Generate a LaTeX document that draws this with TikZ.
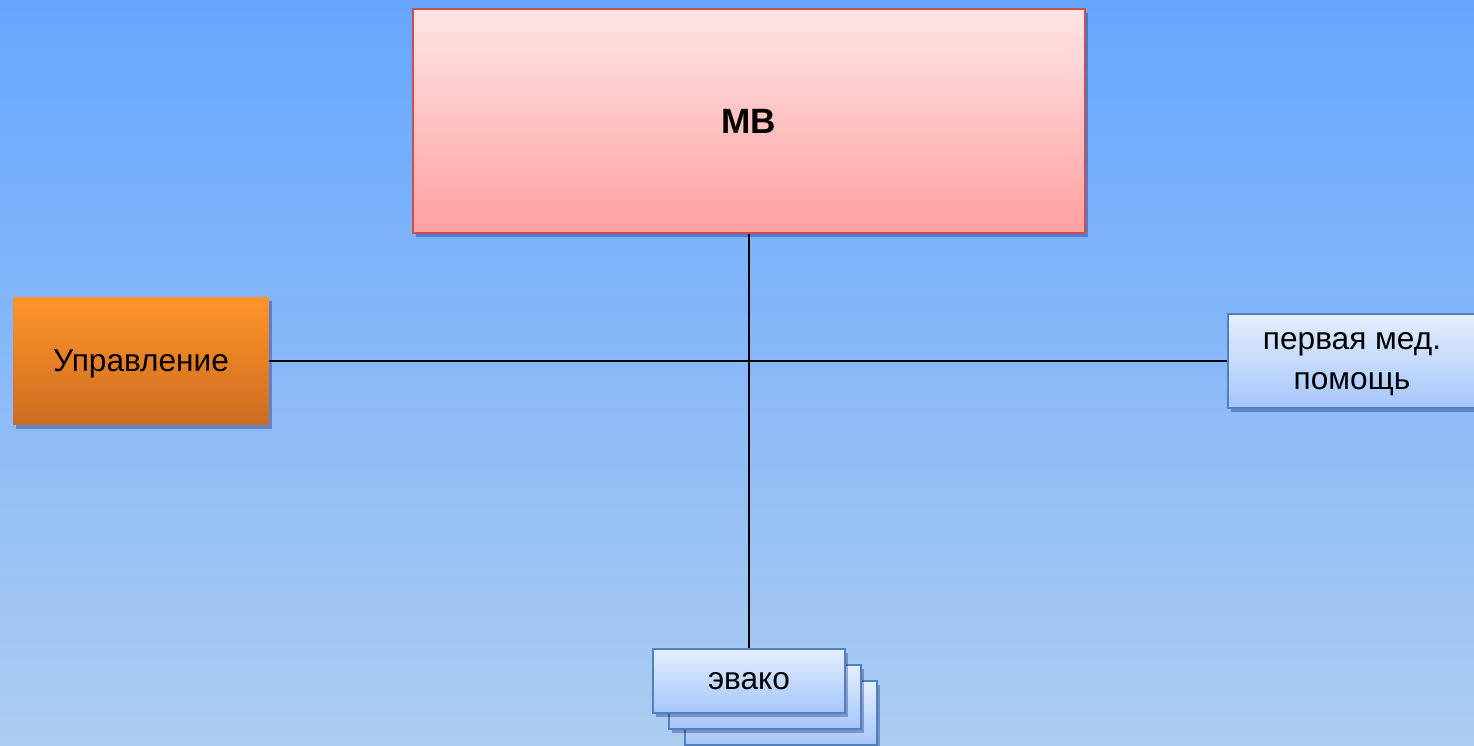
\documentclass[tikz,border=0pt]{standalone}
\usepackage{fontspec}
\setmainfont{Liberation Sans}
\usetikzlibrary{positioning,shadows}

\definecolor{skytop}{RGB}{102,166,255}
\definecolor{skybot}{RGB}{172,205,240}
\definecolor{mbtop}{RGB}{255,229,229}
\definecolor{mbbot}{RGB}{255,160,160}
\definecolor{mbline}{RGB}{200,80,77}
\definecolor{ortop}{RGB}{255,148,40}
\definecolor{orbot}{RGB}{204,108,34}
\definecolor{bltop}{RGB}{228,238,255}
\definecolor{blbot}{RGB}{166,198,250}
\definecolor{blline}{RGB}{79,129,189}

\tikzset{
    boxshadow/.style={drop shadow={shadow xshift=1.5pt, shadow yshift=-2pt, opacity=0.3, fill=blue!40!black}},
    mbbox/.style={draw=mbline, line width=1pt, top color=mbtop, bottom color=mbbot,
        minimum width=13.44cm, minimum height=4.48cm, boxshadow, font=\fontsize{20}{24}\selectfont\bfseries},
    ctrlbox/.style={top color=ortop, bottom color=orbot, minimum width=5.12cm, minimum height=2.56cm,
        boxshadow, text depth=0pt, font=\fontsize{18}{22}\selectfont},
    unitbox/.style={draw=blline, line width=1pt, top color=bltop, bottom color=blbot,
        boxshadow, text depth=0pt, font=\fontsize{18}{22.5}\selectfont, align=center},
    link/.style={line width=1.1pt}
}

\begin{document}
\begin{tikzpicture}[x=0.02cm, y=-0.02cm]
    % background
    \useasboundingbox (0,0) rectangle (1474,745);
    \clip (0,0) rectangle (1474,745);
    \shade[top color=skytop, bottom color=skybot] (0,0) rectangle (1474,745);

    % evacuation stack
    \foreach \k in {2,1} {
        \node[unitbox, minimum width=3.84cm, minimum height=1.28cm] (evako\k) at (749+16*\k, 681+16*\k) {};
    }
    \node[unitbox, minimum width=3.84cm, minimum height=1.28cm] (evako) at (749,681) {эвако};

    % main boxes
    \node[mbbox] (mb) at (749,121) {МВ};
    \node[ctrlbox] (upr) at (141,361) {Управление};
    \node[unitbox, minimum width=4.96cm, minimum height=1.88cm] (aid) at (1352,361) {первая мед.\\помощь};

    % connectors
    \draw[link] (mb.south) -- (evako.north);
    \draw[link] (upr.east) -- (aid.west);
\end{tikzpicture}
\end{document}
